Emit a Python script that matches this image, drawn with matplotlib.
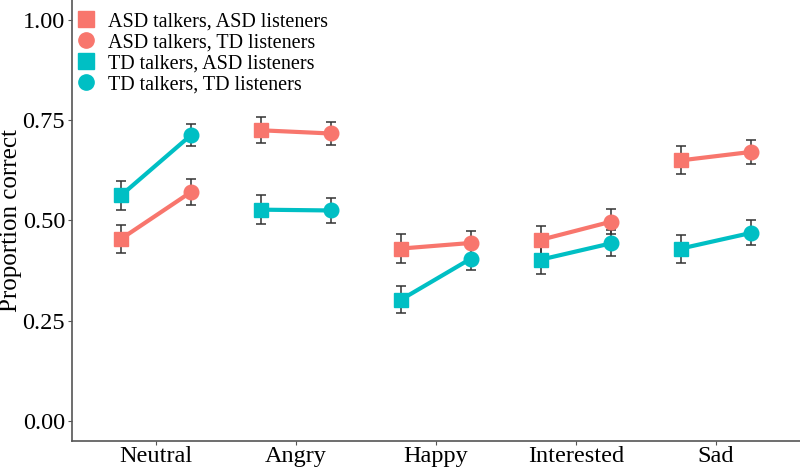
import numpy as np
import matplotlib
matplotlib.use('Agg')
import matplotlib.pyplot as plt
from matplotlib.lines import Line2D

plt.rcParams['font.family'] = ['Liberation Serif', 'DejaVu Serif']

categories = ['Neutral', 'Angry', 'Happy', 'Interested', 'Sad']

# ASD talkers
asd_talk_asd_list = [0.454, 0.725, 0.430, 0.452, 0.650]
asd_talk_asd_err = [0.036, 0.032, 0.036, 0.035, 0.035]
asd_talk_td_list = [0.571, 0.717, 0.444, 0.497, 0.671]
asd_talk_td_err = [0.032, 0.028, 0.031, 0.031, 0.029]

# TD talkers
td_talk_asd_list = [0.5625, 0.527, 0.3025, 0.4025, 0.430]
td_talk_asd_err = [0.036, 0.036, 0.033, 0.035, 0.035]
td_talk_td_list = [0.713, 0.525, 0.405, 0.443, 0.469]
td_talk_td_err = [0.0275, 0.031, 0.029, 0.0325, 0.031]

legend_labels = ['ASD talkers, ASD listeners', 'ASD talkers, TD listeners',
                 'TD talkers, ASD listeners', 'TD talkers, TD listeners']

red = '#F8766D'
teal = '#00BFC4'

fig = plt.figure(figsize=(8, 4.67), dpi=100)
ax = fig.add_axes([0.09, 0.0557, 0.91, 0.9443])

x = np.arange(1, len(categories) + 1)
xl = x - 0.25
xr = x + 0.25

groups = [
    (asd_talk_asd_list, asd_talk_asd_err, asd_talk_td_list, asd_talk_td_err, red),
    (td_talk_asd_list, td_talk_asd_err, td_talk_td_list, td_talk_td_err, teal),
]

for left, lerr, right, rerr, col in groups:
    ax.errorbar(xl, left, yerr=lerr, fmt='none', ecolor='#333333',
                elinewidth=1.1, capsize=3.5, capthick=1.1, zorder=1)
    ax.errorbar(xr, right, yerr=rerr, fmt='none', ecolor='#333333',
                elinewidth=1.1, capsize=3.5, capthick=1.1, zorder=1)
    for i in range(len(categories)):
        ax.plot([xl[i], xr[i]], [left[i], right[i]], color=col, lw=3, zorder=2)
    ax.plot(xl, left, 's', color=col, ms=10.5, zorder=3)
    ax.plot(xr, right, 'o', color=col, ms=10.5, zorder=3)

ax.set_xlim(0.4, 5.6)
ax.set_ylim(-0.05, 1.05)
ax.set_xticks(x)
ax.set_xticklabels(categories)
ax.set_yticks([0, 0.25, 0.5, 0.75, 1.0])
ax.set_yticklabels(['0.00', '0.25', '0.50', '0.75', '1.00'])
ax.tick_params(labelsize=17.5, color='#555555', length=3, width=0.8,
               labelcolor='black', pad=2)
ax.tick_params(axis='x', pad=0.5)
ax.set_ylabel('Proportion correct', fontsize=18)
ax.yaxis.set_label_coords(-0.068, 0.5)

for s in ['top', 'right']:
    ax.spines[s].set_visible(False)
for s in ['left', 'bottom']:
    ax.spines[s].set_color('#555555')
    ax.spines[s].set_linewidth(1.2)

handles = [
    Line2D([], [], marker='s', color=red, ls='none', ms=11),
    Line2D([], [], marker='o', color=red, ls='none', ms=11),
    Line2D([], [], marker='s', color=teal, ls='none', ms=11),
    Line2D([], [], marker='o', color=teal, ls='none', ms=11),
]
fig.legend(handles, legend_labels, loc='upper left',
           bbox_to_anchor=(76 / 800, 1 - 12 / 467), frameon=False,
           fontsize=14.5, borderpad=0, borderaxespad=0, handlelength=1.0,
           handletextpad=0.6, labelspacing=0.1)

fig.savefig('out.png', dpi=100)
